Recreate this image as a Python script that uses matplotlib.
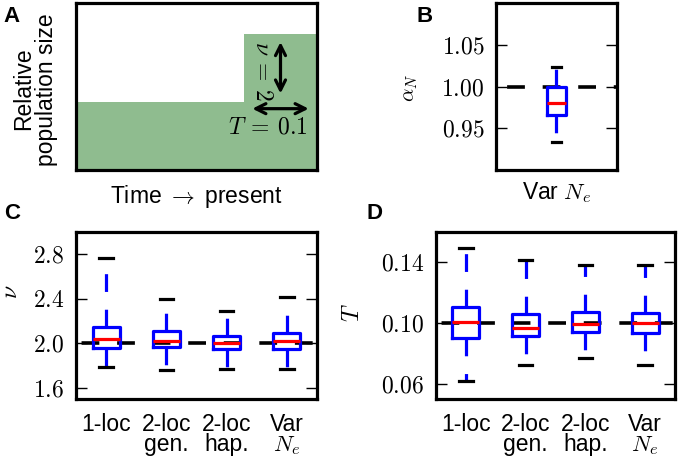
import matplotlib
matplotlib.use('Agg')
import matplotlib.pyplot as plt

plt.rcParams['mathtext.fontset'] = 'cm'
plt.rcParams['font.family'] = ['Liberation Sans', 'DejaVu Sans']
plt.rcParams['lines.scale_dashes'] = False

# panel A: two-epoch demography
epoch_times = [-0.23, 0.0, 0.1]
epoch_sizes = [1.0, 2.0, 2.0]
nu_true = 2.0
T_true = 0.1
alpha_true = 1.0

methods = ['1-loc', '2-loc\ngen.', '2-loc\nhap.', 'Var\n$N_e$']

# panel B: alpha_N estimates (Var Ne only)
alpha_lo = [0.933]
alpha_q1 = [0.966]
alpha_med = [0.980]
alpha_q3 = [1.000]
alpha_hi = [1.023]

# panel C: nu estimates
nu_lo = [1.79, 1.765, 1.77, 1.77]
nu_q1 = [1.96, 1.965, 1.95, 1.95]
nu_med = [2.04, 2.02, 2.00, 2.02]
nu_q3 = [2.15, 2.115, 2.07, 2.095]
nu_hi = [2.77, 2.40, 2.29, 2.42]

# panel D: T estimates
T_lo = [0.062, 0.0726, 0.077, 0.0726]
T_q1 = [0.0901, 0.0912, 0.0943, 0.0938]
T_med = [0.1009, 0.0965, 0.0995, 0.100]
T_q3 = [0.1107, 0.1057, 0.1074, 0.1068]
T_hi = [0.1493, 0.1414, 0.138, 0.138]

DASH = (0, (12.8, 12.8))
LW = 2.3


def style_axes(ax):
    for s in ax.spines.values():
        s.set_linewidth(LW)


def box_panel(ax, lo, q1, med, q3, hi, truth, width, yticks, fmt, xpad):
    n = len(med)
    stats = [dict(whislo=lo[i], q1=q1[i], med=med[i], q3=q3[i], whishi=hi[i])
             for i in range(n)]
    # true value
    ax.plot([0, n + 1], [truth, truth], color='k', lw=2.6, linestyle=DASH, zorder=1)
    ax.bxp(stats, positions=range(1, n + 1), widths=width, showfliers=False,
           boxprops=dict(color='b', lw=LW),
           whiskerprops=dict(color='b', lw=LW, linestyle=DASH),
           capprops=dict(color='k', lw=LW),
           medianprops=dict(color='r', lw=LW),
           manage_ticks=False)
    ax.set_xlim(0.5, n + 0.5)
    ax.set_yticks(yticks)
    ax.set_yticklabels(['$' + fmt % v + '$' for v in yticks])
    ax.tick_params(axis='y', direction='in', length=8, width=1, left=True,
                   right=True, labelsize=17, pad=8.5)
    ax.tick_params(axis='x', length=0, labelsize=16.5, pad=xpad)
    style_axes(ax)


fig = plt.figure(figsize=(6.8, 4.59), dpi=100)
axA = fig.add_axes([0.1118, 0.6296, 0.3544, 0.3638])
axB = fig.add_axes([0.7294, 0.6296, 0.1779, 0.3638])
axC = fig.add_axes([0.1118, 0.1307, 0.3544, 0.3638])
axD = fig.add_axes([0.6412, 0.1307, 0.3515, 0.3638])

# A
axA.fill_between(epoch_times, epoch_sizes, step='post', color='darkseagreen', lw=0)
axA.set_xlim(epoch_times[0], epoch_times[-1])
axA.set_ylim(0, 2.45)
axA.set_xticks([])
axA.set_yticks([])
style_axes(axA)
axA.set_xlabel('Time $\\rightarrow$ present', fontsize=16.5, labelpad=9)
axA.text(-0.216, 0.49, 'Relative', transform=axA.transAxes,
         rotation=90, ha='center', va='center', fontsize=16.5)
axA.text(-0.124, 0.48, 'population size', transform=axA.transAxes,
         rotation=90, ha='center', va='center', fontsize=16.5)
axA.annotate('', xy=(T_true / 2, nu_true), xytext=(T_true / 2, epoch_sizes[0]),
             arrowprops=dict(arrowstyle='<->', lw=LW, color='k', shrinkA=6, shrinkB=6,
                             mutation_scale=18))
axA.annotate('', xy=(T_true, 0.9), xytext=(0, 0.9),
             arrowprops=dict(arrowstyle='<->', lw=LW, color='k', shrinkA=6, shrinkB=6,
                             mutation_scale=18))
axA.text(0.772, 0.593, '$\\nu \\:=\\: 2$', transform=axA.transAxes, rotation=270,
         ha='center', va='center', fontsize=17)
axA.text(0.797, 0.257, '$T \\:=\\: 0.1$', transform=axA.transAxes,
         ha='center', va='center', fontsize=17)

# B
box_panel(axB, alpha_lo, alpha_q1, alpha_med, alpha_q3, alpha_hi, alpha_true, 0.15,
          [0.95, 1.00, 1.05], '%.2f', 7)
axB.set_ylim(0.9, 1.1)
axB.set_xticks([1])
axB.set_xticklabels(['Var $N_e$'])
axB.text(-0.71, 0.49, '$\\alpha_N$', transform=axB.transAxes, rotation=90,
         ha='center', va='center', fontsize=15)

# C
box_panel(axC, nu_lo, nu_q1, nu_med, nu_q3, nu_hi, nu_true, 0.45,
          [1.6, 2.0, 2.4, 2.8], '%.1f', 10)
axC.set_ylim(1.5, 3.0)
axC.set_xticks(range(1, len(methods) + 1))
axC.set_xticklabels(methods, linespacing=0.85)
axC.text(-0.27, 0.64, '$\\nu$', transform=axC.transAxes, rotation=90,
         ha='center', va='center', fontsize=17)

# D
box_panel(axD, T_lo, T_q1, T_med, T_q3, T_hi, T_true, 0.45,
          [0.06, 0.10, 0.14], '%.2f', 10)
axD.set_ylim(0.05, 0.16)
axD.set_xticks(range(1, len(methods) + 1))
axD.set_xticklabels(methods, linespacing=0.85)
axD.text(-0.347, 0.52, '$T$', transform=axD.transAxes, rotation=90,
         ha='center', va='center', fontsize=17)

# panel letters
for lab, x, y in [('A', 0.0176, 0.963), ('B', 0.625, 0.963),
                  ('C', 0.0176, 0.534), ('D', 0.551, 0.534)]:
    fig.text(x, y, lab, fontsize=16, fontweight='bold', ha='center', va='center')

fig.savefig('out.png', dpi=100)
